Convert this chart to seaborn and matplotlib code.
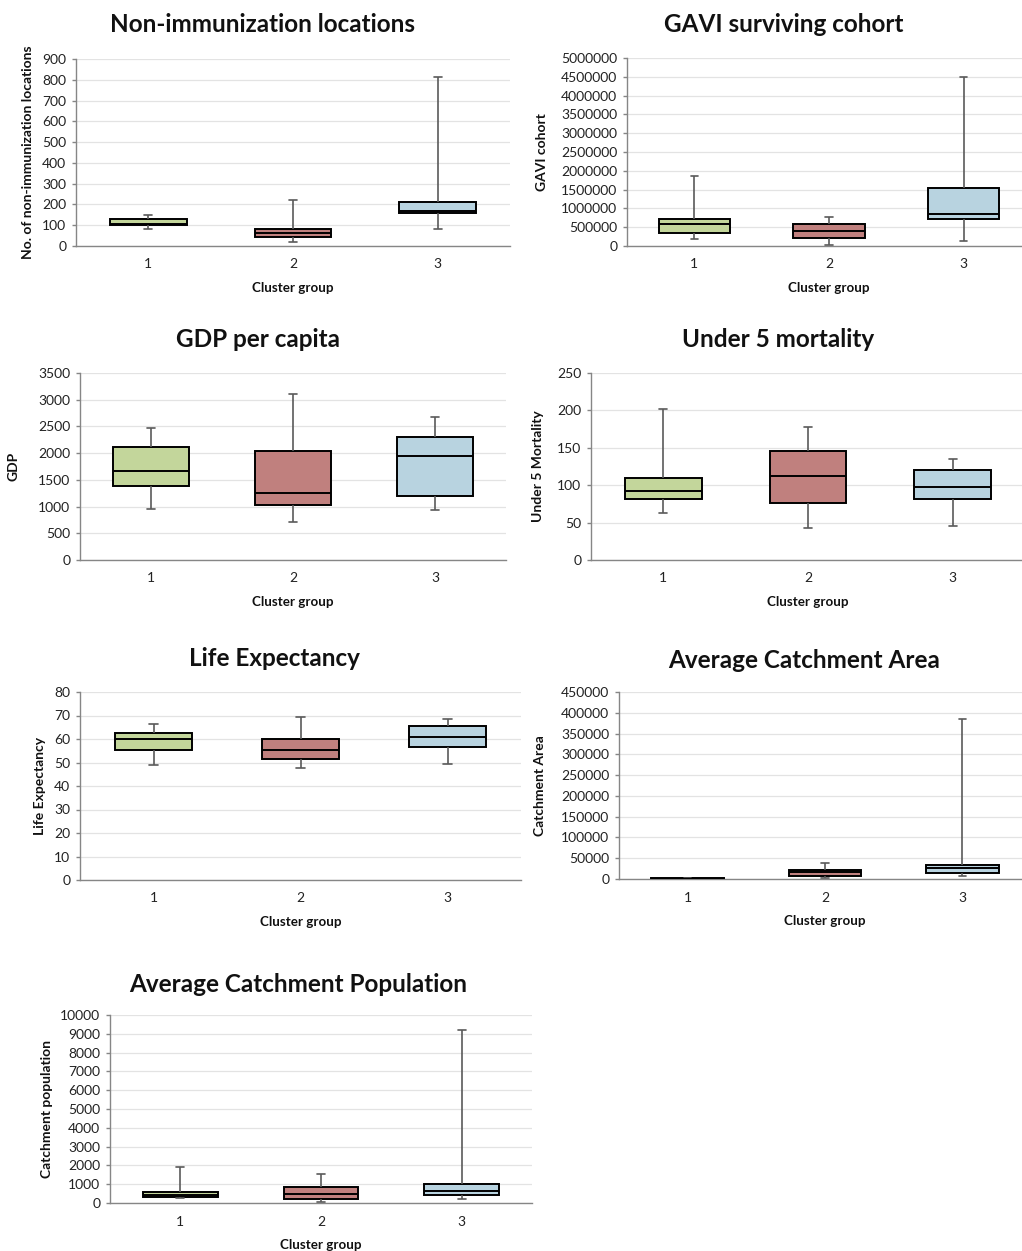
import numpy as np
import pandas as pd
import matplotlib
matplotlib.use("Agg")
import matplotlib.pyplot as plt
from matplotlib.ticker import FuncFormatter, FixedLocator
import seaborn as sns

# ---------------- data (five-number summaries: min, q1, median, q3, max) ----------------
groups = ["1", "2", "3"]

nonimm_g1 = [82, 102, 106, 128, 148]
nonimm_g2 = [20, 42, 62, 80, 220]
nonimm_g3 = [80, 160, 170, 210, 812]

gavi_g1 = [180000, 350000, 580000, 710000, 1850000]
gavi_g2 = [20000, 200000, 390000, 590000, 770000]
gavi_g3 = [130000, 720000, 850000, 1530000, 4500000]

gdp_g1 = [960, 1390, 1660, 2110, 2470]
gdp_g2 = [720, 1030, 1260, 2040, 3100]
gdp_g3 = [930, 1190, 1950, 2300, 2680]

u5_g1 = [63, 81, 92, 109, 202]
u5_g2 = [43, 76, 112, 146, 178]
u5_g3 = [46, 82, 97, 120, 135]

life_g1 = [49, 55.5, 60, 62.5, 66.5]
life_g2 = [47.5, 51.5, 55.5, 60, 69.5]
life_g3 = [49.5, 56.5, 61, 65.5, 68.5]

area_g1 = [200, 600, 1000, 1600, 2500]
area_g2 = [2000, 7000, 16000, 22000, 38000]
area_g3 = [8000, 14000, 26000, 34000, 385000]

pop_g1 = [250, 300, 420, 580, 1920]
pop_g2 = [50, 230, 500, 850, 1550]
pop_g3 = [200, 430, 620, 1000, 9180]

titles = ["Non-immunization locations", "GAVI surviving cohort", "GDP per capita",
          "Under 5 mortality", "Life Expectancy", "Average Catchment Area",
          "Average Catchment Population"]
ylabels = ["No. of non-immunization locations", "GAVI cohort", "GDP",
           "Under 5 Mortality", "Life Expectancy", "Catchment Area",
           "Catchment population"]
xlabel = "Cluster group"
ymax = [900, 5000000, 3500, 250, 80, 450000, 10000]
ystep = [100, 500000, 500, 50, 10, 50000, 1000]

panels = [
    (nonimm_g1, nonimm_g2, nonimm_g3),
    (gavi_g1, gavi_g2, gavi_g3),
    (gdp_g1, gdp_g2, gdp_g3),
    (u5_g1, u5_g2, u5_g3),
    (life_g1, life_g2, life_g3),
    (area_g1, area_g2, area_g3),
    (pop_g1, pop_g2, pop_g3),
]

colors = ["#c3d69b", "#c0807e", "#b8d3e0"]

# ---------------- layout (pixels) ----------------
W, H = 1022, 1251
# left, right, top, bottom of plot areas
boxes_px = [
    (76, 510, 59, 246),
    (627, 1031, 58, 246),
    (80, 506, 373, 560),
    (591, 1025, 373, 560),
    (80, 521, 692, 880),
    (619, 1031, 692, 879),
    (110, 532, 1015, 1203),
]
title_px = [(262, 25), (784, 25), (258, 340), (778, 340), (274, 658), (804, 661), (298, 984)]
ylab_px = [28, 542, 14, 538, 40, 540, 47]

sns.set_style("white")
plt.rcParams["font.family"] = ["Lato", "DejaVu Sans"]

fig = plt.figure(figsize=(W / 100, H / 100), dpi=100)

for i, (vals, (l, r, t, b)) in enumerate(zip(panels, boxes_px)):
    ax = fig.add_axes([l / W, 1 - b / H, (r - l) / W, (b - t) / H])
    df = pd.DataFrame({
        "group": np.repeat(groups, 5),
        "value": np.concatenate([np.asarray(v, dtype=float) for v in vals]),
    })
    sns.boxplot(data=df, x="group", y="value", hue="group", palette=colors,
                saturation=1, legend=False, whis=(0, 100), width=0.53, showfliers=False,
                linecolor="black", linewidth=1.4, capwidths=0.055,
                whiskerprops=dict(color="#5a5a5a", linewidth=1.2),
                capprops=dict(color="#5a5a5a", linewidth=1.2),
                ax=ax, zorder=3)
    ax.set_xlim(-0.5, 2.5)
    ax.set_ylim(0, ymax[i])
    ax.set_yticks(np.arange(0, ymax[i] + ystep[i] / 2, ystep[i]))
    ax.yaxis.set_major_formatter(FuncFormatter(lambda v, p: f"{v:.0f}"))
    ax.set_xticks([0, 1, 2])
    ax.set_xticklabels(groups)
    ax.xaxis.set_minor_locator(FixedLocator([-0.5, 0.5, 1.5, 2.5]))
    ax.tick_params(axis="x", which="major", length=0, labelsize=10, pad=9, colors="#222222")
    ax.tick_params(axis="x", which="minor", length=5, width=1, color="#868686", direction="out")
    ax.tick_params(axis="y", which="major", length=3, width=1, color="#868686",
                   labelsize=10, pad=4, labelcolor="#222222", left=True)
    ax.grid(axis="y", color="#e3e3e3", linewidth=0.9)
    ax.set_axisbelow(True)
    for s in ["top", "right"]:
        ax.spines[s].set_visible(False)
    for s in ["left", "bottom"]:
        ax.spines[s].set_color("#868686")
        ax.spines[s].set_linewidth(1)
    ax.set_xlabel("")
    ax.set_ylabel("")

    tx, ty = title_px[i]
    fig.text(tx / W, 1 - ty / H, titles[i], ha="center", va="center",
             fontsize=17.5, fontweight="bold", color="#111111")
    fig.text(ylab_px[i] / W, 1 - ((t + b) / 2) / H, ylabels[i], rotation=90,
             ha="center", va="center", fontsize=10, fontweight="bold", color="#111111")
    fig.text(((l + r) / 2) / W, 1 - (b + 42) / H, xlabel, ha="center", va="center",
             fontsize=9.6, fontweight="bold", color="#111111")

fig.savefig("out.png", dpi=100, facecolor="white")
